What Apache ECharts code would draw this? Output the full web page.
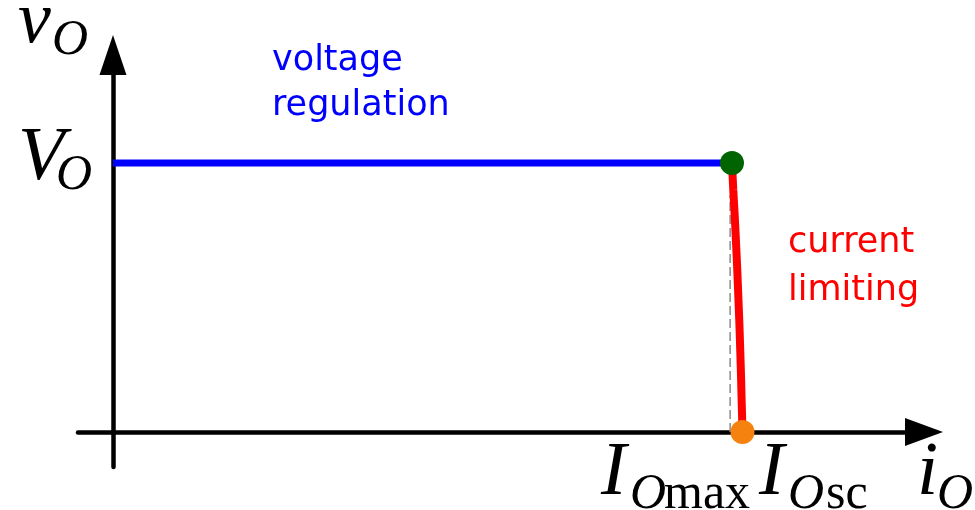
<!DOCTYPE html>
<html>
<head>
<meta charset="utf-8">
<script src="https://cdn.jsdelivr.net/npm/echarts@6/dist/echarts.min.js"></script>
<style>
  html, body { margin: 0; padding: 0; background: #fff; }
  #chart { width: 975px; height: 510px; }
</style>
</head>
<body>
<div id="chart"></div>
<script>
// 电源输出特性：恒压区 + 限流区
var chart = echarts.init(document.getElementById('chart'));

// normalised units: iO = 1 at IOmax, vO = 1 at VO
var IOmax = 1.0;
var IOsc = 1.017;
var VO = 1.0;

var regulationLine = [[0, VO], [IOmax, VO]];
// current limiting curve
var limitingCurve = [
  [1.0, 1.0], [1.0021, 0.9], [1.0045, 0.8], [1.0066, 0.7], [1.0086, 0.6],
  [1.0103, 0.5], [1.012, 0.4], [1.0134, 0.3], [1.0147, 0.2], [1.0158, 0.1],
  [1.017, 0]
];
// thin dashed guide just left of the curve
var guideLine = [[0.997, 0], [0.997, 0.88]];
var kneePoint = [[IOmax, VO]];
var shortPoint = [[IOsc, 0]];

var serif = '"Liberation Serif", "DejaVu Serif", serif';
var sans = '"DejaVu Sans", Verdana, sans-serif';

function txt(s, x, base, size, italic, color, family) {
  return {
    type: 'text',
    x: x,
    y: base - 0.34 * size + 5,
    style: {
      text: s,
      font: (italic ? 'italic ' : '') + size + 'px ' + (family || serif),
      fill: color || '#000',
      textAlign: 'left',
      textVerticalAlign: 'middle'
    },
    z: 10
  };
}

var option = {
  animation: false,
  backgroundColor: '#fff',
  grid: { left: 78, right: 51, top: 55, bottom: 43 },
  xAxis: {
    type: 'value',
    min: -0.0565,
    max: 1.3102,
    axisLine: {
      onZero: true,
      symbol: ['none', 'triangle'],
      symbolSize: [28, 38],
      lineStyle: { color: '#000', width: 4.5 }
    },
    axisTick: { show: false },
    axisLabel: { show: false },
    splitLine: { show: false }
  },
  yAxis: {
    type: 'value',
    min: -0.130,
    max: 1.4015,
    axisLine: {
      show: true,
      onZero: true,
      symbol: ['none', 'triangle'],
      symbolSize: [27, 40],
      lineStyle: { color: '#000', width: 4.5 }
    },
    axisTick: { show: false },
    axisLabel: { show: false },
    splitLine: { show: false }
  },
  series: [
    {
      type: 'line',
      data: guideLine,
      showSymbol: false,
      lineStyle: { color: '#888', width: 1.5, type: [9, 4] },
      z: 1
    },
    {
      type: 'line',
      data: regulationLine,
      showSymbol: false,
      lineStyle: { color: '#0000ff', width: 7 },
      z: 2
    },
    {
      type: 'line',
      data: limitingCurve,
      showSymbol: false,
      smooth: 0.3,
      lineStyle: { color: '#ff0000', width: 8, cap: 'round' },
      z: 3
    },
    {
      type: 'scatter',
      data: kneePoint,
      symbolSize: 24,
      itemStyle: { color: '#006400', opacity: 1 },
      z: 5
    },
    {
      type: 'scatter',
      data: shortPoint,
      symbolSize: 24,
      itemStyle: { color: '#f5820f', opacity: 1 },
      z: 5
    }
  ],
  graphic: [
    txt('v', 18, 43, 74, true),
    txt('O', 52, 53, 50, true),
    txt('V', 18, 180, 76, true),
    txt('O', 56, 188, 50, true),
    txt('I', 601, 495, 76, true),
    txt('O', 630, 507, 50, true),
    txt('max', 664, 507, 50, false),
    txt('I', 759, 495, 76, true),
    txt('O', 788, 507, 50, true),
    txt('sc', 826, 507, 50, false),
    txt('i', 917, 495, 76, true),
    txt('O', 937, 507, 50, true),
    txt('voltage', 272, 68, 35, false, '#0000ff', sans),
    txt('regulation', 272, 113, 35, false, '#0000ff', sans),
    txt('current', 788, 250, 35, false, '#ff0000', sans),
    txt('limiting', 788, 298, 35, false, '#ff0000', sans)
  ]
};

chart.setOption(option);
</script>
</body>
</html>
